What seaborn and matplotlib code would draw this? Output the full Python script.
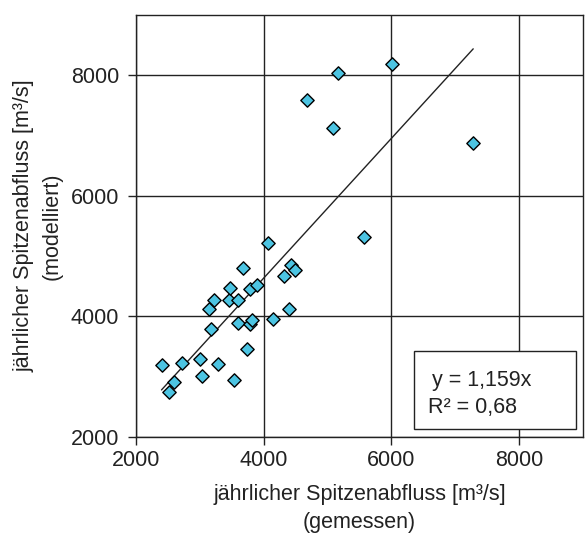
import numpy as np
import pandas as pd
import matplotlib
matplotlib.use("Agg")
import matplotlib.pyplot as plt
import seaborn as sns
from matplotlib.patches import Rectangle

# measured vs. modelled annual peak discharge [m3/s]
measured = [2400, 2520, 2590, 2720, 3000, 3030, 3280, 3540, 3740, 3180,
            3150, 3590, 3790, 3820, 3220, 3450, 3590, 3470, 3790, 3900,
            3670, 4060, 4150, 4390, 4310, 4420, 4490, 5570, 4680, 5090,
            5170, 6010, 7280]
modelled = [3190, 2740, 2910, 3230, 3290, 3020, 3210, 2950, 3460, 3790,
            4120, 3890, 3870, 3940, 4280, 4280, 4280, 4470, 4450, 4520,
            4810, 5220, 3960, 4120, 4670, 4860, 4770, 5320, 7590, 7120,
            8040, 8190, 6870]
slope = 1.159
r2 = 0.68

df = pd.DataFrame({"gemessen": measured, "modelliert": modelled})

sns.set_style("ticks")
plt.rcParams["font.family"] = ["Liberation Sans", "DejaVu Sans"]
text_col = "#222222"

fig = plt.figure(figsize=(5.86, 5.33), dpi=100)
ax = fig.add_axes([0.232, 0.180, 0.763, 0.792])

sns.scatterplot(data=df, x="gemessen", y="modelliert", marker="D", s=46,
                color="#4cc4e2", edgecolor="black", linewidth=1.0,
                ax=ax, zorder=3)

# trend line through origin over the data range
xl = np.array([df["gemessen"].min(), df["gemessen"].max()])
ax.plot(xl, slope * xl, color="#222222", lw=1.0, zorder=2)

ax.set_xlim(2000, 9000)
ax.set_ylim(2000, 9000)
ticks = [2000, 4000, 6000, 8000]
ax.set_xticks(ticks)
ax.set_yticks(ticks)
ax.grid(True, color="#222222", lw=1.0)
ax.set_axisbelow(True)
for sp in ax.spines.values():
    sp.set_visible(True)
    sp.set_color("#222222")
    sp.set_linewidth(1.0)
ax.tick_params(direction="out", length=6, width=1.0, color="#222222",
               labelsize=15.5, labelcolor=text_col, pad=3)
ax.tick_params(axis="y", pad=6)

ax.set_xlabel("jährlicher Spitzenabfluss [m³/s]\n(gemessen)",
              fontsize=15.5, color=text_col, linespacing=1.4, labelpad=10)
ax.set_ylabel("jährlicher Spitzenabfluss [m³/s]\n(modelliert)",
              fontsize=15.5, color=text_col, linespacing=1.45, labelpad=6)

# equation box
ax.add_patch(Rectangle((0.622, 0.019), 0.362, 0.185, transform=ax.transAxes,
                       facecolor="white", edgecolor="#222222", lw=1.0, zorder=4))
ax.text(0.662, 0.135, f"y = {slope:.3f}x".replace(".", ","), transform=ax.transAxes,
        fontsize=15.5, color=text_col, va="center", ha="left", zorder=5)
ax.text(0.653, 0.069, f"R² = {r2:.2f}".replace(".", ","), transform=ax.transAxes,
        fontsize=15.5, color=text_col, va="center", ha="left", zorder=5)

fig.savefig("out.png", dpi=100)
